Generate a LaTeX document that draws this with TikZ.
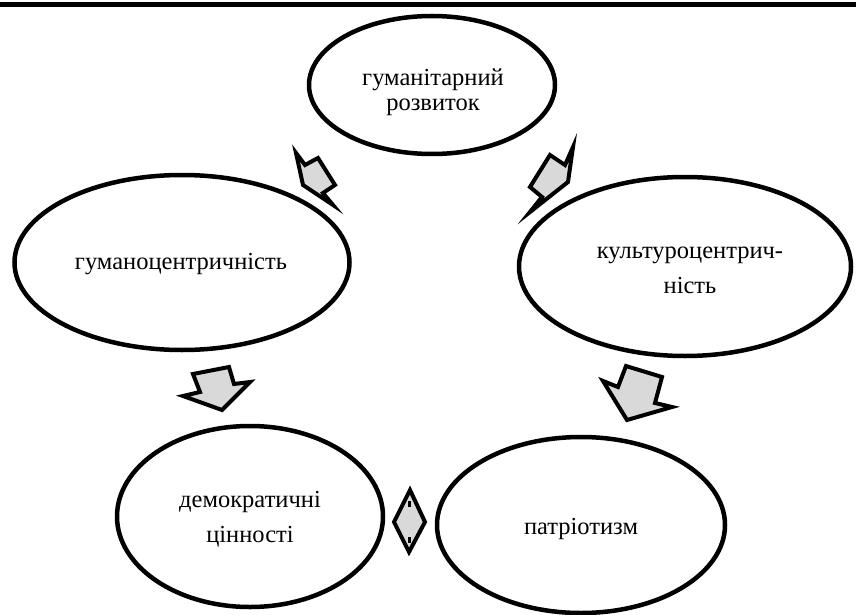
\documentclass[tikz,border=0pt]{standalone}
\usepackage{fontspec}
\setmainfont{Liberation Serif}
\usetikzlibrary{shapes.geometric}
\begin{document}
\begin{tikzpicture}[x=1pt,y=-1pt,
  oval/.style={draw=black,line width=4.5pt,ellipse,inner sep=0pt,fill=white},
  txt/.style={align=center,font=\fontsize{24.5}{35}\selectfont,inner sep=0pt},
  blockarrow/.style={draw=black,fill=gray!30,line width=4pt,line join=miter,miter limit=25},
  notch/.style={draw=black,line width=3pt}
]
\useasboundingbox (0,0) rectangle (856,615);
\clip (0,0) rectangle (856,615);
% top rule
\coordinate (rl) at (0,4.5);
\coordinate (rr) at (856,4.5);
\draw[line width=5pt] (rl) -- (rr);
% ellipses
\node[oval,minimum width=246pt,minimum height=138pt] (e1) at (432,85) {};
\node[oval,minimum width=335pt,minimum height=175pt] (e2) at (182,262.5) {};
\node[oval,minimum width=332pt,minimum height=179pt] (e3) at (685,266.5) {};
\node[oval,minimum width=266pt,minimum height=181pt] (e4) at (250,516.5) {};
\node[oval,minimum width=288pt,minimum height=176pt] (e5) at (581,525) {};
% texts
\node[txt] (t1) at (433,92) {гуманітарний\\[-10pt]розвиток};
\node[txt] (t2) at (181,264) {гуманоцентричність};
\node[txt] (t3) at (690,270) {культуроцентрич-\\ність};
\node[txt] (t4) at (250,519) {демократичні\\цінності};
\node[txt] (t5) at (581,529) {патріотизм};
% block arrows
% top -> left
\draw[blockarrow] (296,153) -- (305,165) -- (318,158) -- (335,185) -- (323,193) -- (333,205) -- (303,185) -- cycle;
% top -> right
\draw[blockarrow] (573,147) -- (565,165) -- (550,155) -- (530,187) -- (542,197) -- (530,212) -- (568,182) -- cycle;
% left -> bottom-left
\draw[blockarrow] (193,374) -- (229,367) -- (234,384) -- (250,382) -- (222,410) -- (183,396) -- (200,392) -- cycle;
% right -> bottom-right
\draw[blockarrow] (626,366) -- (662,377) -- (655,403) -- (672,407) -- (627,420) -- (603,381) -- (618,387) -- cycle;
% double arrow between bottom ellipses
\draw[blockarrow] (410,490) -- (425,522) -- (409,552) -- (394,522) -- cycle;
\draw[notch] (409.5,501) -- (409.5,507);
\draw[notch] (409.5,537) -- (409.5,543);
\end{tikzpicture}
\end{document}
